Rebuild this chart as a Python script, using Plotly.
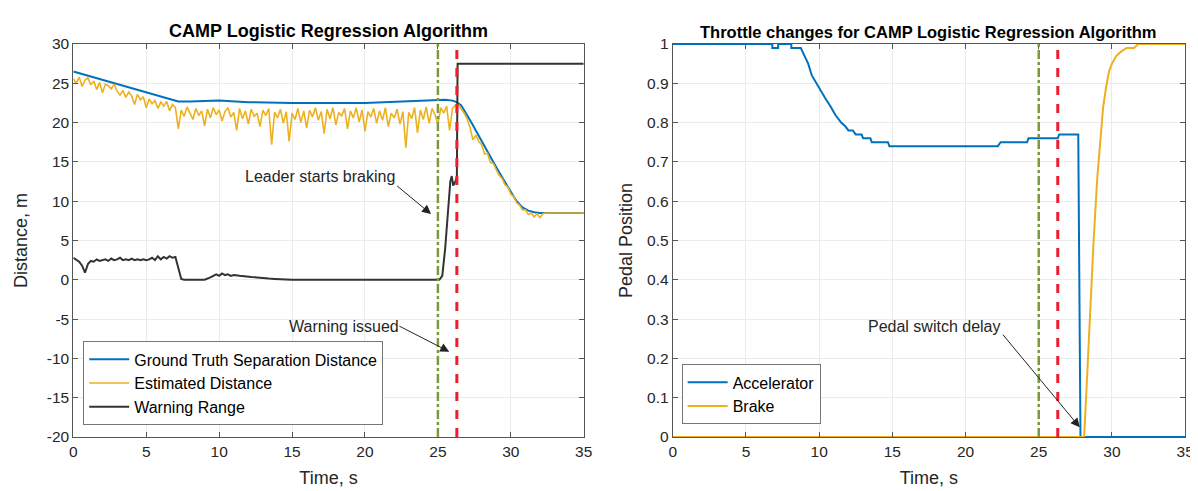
import plotly.graph_objects as go

# ---------------- data ----------------
gt_t = [0, 7.2, 8, 10, 12, 15, 20, 24, 25, 25.5, 26, 26.3, 26.6, 27.0, 27.3, 27.6, 28.0, 28.4, 28.8,
        29.2, 29.6, 30.0, 30.4, 30.8, 31.2, 31.6, 32.0, 33.0, 35]
gt_d = [26.5, 22.7, 22.7, 22.8, 22.6, 22.5, 22.5, 22.8, 22.9, 22.9, 22.8, 22.6, 22.2, 21.0, 20.0, 19.0,
        17.6, 16.3, 15.0, 13.7, 12.4, 11.2, 10.0, 9.2, 8.8, 8.6, 8.5, 8.5, 8.5]

est_t = [round(0.2 * i, 1) for i in range(163)] + [35]
est_d = [25.6, 25.0, 25.8, 24.6, 25.4, 25.7, 24.8, 25.3, 24.2, 25.1, 23.8, 24.9, 24.7, 24.3, 24.9, 24.0,
         23.5, 24.1, 23.2, 23.9, 23.4, 22.3, 23.6, 22.9, 23.3, 21.9, 23.0, 22.4, 22.8, 21.8, 22.6, 22.1,
         22.7, 21.5, 22.3, 21.9,
         19.2, 21.6, 20.8, 22.0, 21.2, 20.4, 21.8, 20.9, 21.5, 19.6, 21.7, 20.6, 21.9, 21.0, 21.6, 20.2,
         21.4, 21.9, 20.7, 21.3, 19.0, 21.8, 20.5, 21.5, 19.8, 21.7, 20.8, 21.2, 19.5, 21.6, 20.9, 21.8,
         17.2, 21.3, 20.6, 21.7, 19.9, 21.4, 17.6, 21.2, 20.4, 21.8, 20.0, 21.5, 19.3, 21.6, 20.7, 21.9,
         20.3, 21.4, 18.6, 21.7, 20.5, 21.9, 19.7, 21.3, 20.8, 21.8, 19.2, 21.5, 20.6, 21.9, 20.1, 21.6,
         18.9, 21.4, 20.7, 21.8, 19.9, 21.5, 20.3, 21.9, 19.5, 21.2, 20.6, 21.7, 19.8, 21.4, 16.8, 21.3,
         20.5, 21.9, 18.7, 21.6, 20.4, 22.0, 19.9, 21.8, 21.0, 19.8, 21.9, 21.2, 22.1, 19.0, 21.8, 22.2,
         22.3, 21.8, 21.2, 20.5, 19.4, 17.8, 18.4, 17.6, 17.2, 16.0, 16.1, 14.9, 14.8, 14.0, 13.3, 12.9,
         12.1, 11.8, 10.9, 10.6, 9.8, 9.5, 8.9, 8.9, 8.3, 8.5, 8.0, 8.4, 7.9, 8.4, 8.5, 8.5]

warn_t = [0, 0.2, 0.4, 0.6, 0.8, 1.0, 1.2, 1.4, 1.6, 1.8, 2.0, 2.2, 2.4, 2.6, 2.8, 3.0, 3.2, 3.4, 3.6,
          3.8, 4.0, 4.2, 4.4, 4.6, 4.8, 5.0, 5.2, 5.4, 5.6, 5.8, 6.0, 6.2, 6.4, 6.6, 6.8, 7.0, 7.2, 7.4,
          7.6, 9.0, 9.4, 9.8, 10.0, 10.2, 10.4, 10.6, 10.8, 11.0, 11.4, 11.8, 12.2, 12.6, 13.0, 13.4,
          13.8, 14.4, 15.0, 25.1, 25.3, 25.5, 25.7, 25.85, 25.95, 26.05, 26.15, 26.3, 26.35, 35]
warn_d = [2.8, 2.6, 2.3, 1.8, 0.9, 2.0, 2.4, 2.3, 2.6, 2.4, 2.5, 2.6, 2.4, 2.7, 2.5, 2.6, 2.8, 2.5, 2.6,
          2.5, 2.7, 2.5, 2.6, 2.5, 2.6, 2.5, 2.6, 2.8, 2.5, 3.0, 2.6, 2.9, 2.7, 3.0, 2.8, 2.9, 1.5, 0.1,
          0.0, 0.0, 0.3, 0.7, 0.5, 0.8, 0.6, 0.7, 0.5, 0.6, 0.5, 0.4, 0.35, 0.3, 0.2, 0.15,
          0.1, 0.05, 0.0, 0.0, 0.5, 4.0, 9.0, 12.5, 13.2, 12.0, 12.3, 13.0, 27.5, 27.5]

acc_t = [0, 6.8, 6.8, 7.2, 7.2, 8.1, 8.1, 8.75, 9.0, 9.25, 9.5, 9.8, 10.1, 10.45, 10.8, 11.1, 11.5,
         11.8, 12.0, 12.3, 12.5, 12.9, 13.0, 13.5, 13.6, 14.7, 14.8, 22.2, 22.4, 24.2, 24.3, 26.3, 26.4,
         27.7, 27.85, 35]
acc_v = [1.0, 1.0, 0.99, 0.99, 1.0, 1.0, 0.99, 0.99, 0.97, 0.95, 0.92, 0.90, 0.88, 0.86, 0.84, 0.82,
         0.80, 0.79, 0.78, 0.78, 0.77, 0.77, 0.76, 0.76, 0.75, 0.75, 0.74, 0.74, 0.75, 0.75, 0.76, 0.76,
         0.77, 0.77, 0.0, 0.0]

brake_t = [0, 28.1, 28.3, 28.5, 28.75, 29.0, 29.2, 29.4, 29.6, 29.8, 30.0, 30.3, 30.6, 31.0, 31.5, 31.8, 35]
brake_v = [0, 0, 0.15, 0.32, 0.5, 0.66, 0.76, 0.84, 0.89, 0.93, 0.95, 0.97, 0.98, 0.99, 0.99, 1.0, 1.0]

event_times = [25.0, 26.3]   # leader braking, warning issued
x_ticks = [0, 5, 10, 15, 20, 25, 30, 35]
left_y_ticks = [30, 25, 20, 15, 10, 5, 0, -5, -10, -15, -20]
right_y_ticks = [0, 0.1, 0.2, 0.3, 0.4, 0.5, 0.6, 0.7, 0.8, 0.9, 1]

# ---------------- styling ----------------
BLUE = "#0072BD"
ORANGE = "#EDB120"
DARK = "#333333"
GREEN = "#7C9A3C"
RED = "#EE1C2E"
FONT = "Liberation Sans, Arial, sans-serif"
TXT = "#262626"

fig = go.Figure()
fig.add_trace(go.Scatter(x=gt_t, y=gt_d, mode="lines", name="Ground Truth Separation Distance",
                         line=dict(color=BLUE, width=2), xaxis="x", yaxis="y", legend="legend"))
fig.add_trace(go.Scatter(x=est_t, y=est_d, mode="lines", name="Estimated Distance",
                         line=dict(color=ORANGE, width=1.6), xaxis="x", yaxis="y", legend="legend"))
fig.add_trace(go.Scatter(x=warn_t, y=warn_d, mode="lines", name="Warning Range",
                         line=dict(color=DARK, width=2), xaxis="x", yaxis="y", legend="legend"))

fig.add_trace(go.Scatter(x=acc_t, y=acc_v, mode="lines", name="Accelerator",
                         line=dict(color=BLUE, width=2), xaxis="x2", yaxis="y2", legend="legend2"))
fig.add_trace(go.Scatter(x=brake_t, y=brake_v, mode="lines", name="Brake",
                         line=dict(color=ORANGE, width=2), xaxis="x2", yaxis="y2", legend="legend2"))

shapes = []
for xr, yr in (("x", "y domain"), ("x2", "y2 domain")):
    shapes.append(dict(type="line", xref=xr, yref=yr, x0=event_times[0], x1=event_times[0], y0=0, y1=1,
                       line=dict(color=GREEN, width=2.5, dash="dashdot")))
    shapes.append(dict(type="line", xref=xr, yref=yr, x0=event_times[1], x1=event_times[1], y0=0, y1=1,
                       line=dict(color=RED, width=3, dash="dash")))

TICKSIZE = 15.5
axis_common = dict(showgrid=True, gridcolor="#ebebeb", gridwidth=1, zeroline=False,
                   showline=True, linecolor="#555555", linewidth=1, mirror="ticks",
                   ticks="inside", ticklen=5, tickcolor="#555555",
                   tickfont=dict(family=FONT, size=TICKSIZE, color=TXT))
TITLEFONT = dict(family=FONT, size=18, color=TXT)

annotations = [
    dict(text="<b>CAMP Logistic Regression Algorithm</b>", xref="paper", yref="paper",
         x=(62 + 578) / 2 / 1198, y=1 - 14 / 491, showarrow=False,
         font=dict(family=FONT, size=18, color="#000000"), xanchor="center", yanchor="middle"),
    dict(text="<b>Throttle changes for CAMP Logistic Regression Algorithm</b>", xref="paper", yref="paper",
         x=(668 + 1186) / 2 / 1198, y=1 - 16 / 491, showarrow=False,
         font=dict(family=FONT, size=16.5, color="#000000"), xanchor="center", yanchor="middle"),
    # arrows
    dict(x=24.53, y=8.36, ax=22.1, ay=12.1, xref="x", yref="y", axref="x", ayref="y", text="",
         showarrow=True, arrowhead=2, arrowsize=1.8, arrowwidth=1, arrowcolor="#222222"),
    dict(x=25.78, y=-9.15, ax=22.25, ay=-5.8, xref="x", yref="y", axref="x", ayref="y", text="",
         showarrow=True, arrowhead=2, arrowsize=1.8, arrowwidth=1, arrowcolor="#222222"),
    dict(x=27.8, y=0.0246, ax=22.47, ay=0.264, xref="x2", yref="y2", axref="x2", ayref="y2", text="",
         showarrow=True, arrowhead=2, arrowsize=1.8, arrowwidth=1, arrowcolor="#222222"),
    # texts
    dict(x=16.9, y=13.2, xref="x", yref="y", text="Leader starts braking", showarrow=False,
         font=dict(family=FONT, size=16, color=TXT)),
    dict(x=18.56, y=-6.0, xref="x", yref="y", text="Warning issued", showarrow=False,
         font=dict(family=FONT, size=16, color=TXT)),
    dict(x=17.9, y=0.28, xref="x2", yref="y2", text="Pedal switch delay", showarrow=False,
         font=dict(family=FONT, size=16, color=TXT)),
]

legend_common = dict(bgcolor="white", bordercolor="#777777", borderwidth=1,
                     font=dict(family=FONT, size=16, color="#000000"),
                     xanchor="left", yanchor="bottom", tracegroupgap=0, itemwidth=40)

fig.update_layout(
    width=1198, height=491,
    margin=dict(l=0, r=0, t=0, b=0),
    paper_bgcolor="white", plot_bgcolor="white",
    font=dict(family=FONT, color=TXT),
    xaxis=dict(domain=[62 / 1198, 578 / 1198], range=[0, 35], tickvals=x_ticks, anchor="y",
               title=dict(text="Time, s", font=TITLEFONT, standoff=12),
               **axis_common),
    yaxis=dict(domain=[1 - 435 / 491, 1 - 28 / 491], range=[-20, 30], tickvals=left_y_ticks, anchor="x",
               ticktext=[str(v) for v in left_y_ticks],
               title=dict(text="Distance, m", font=TITLEFONT, standoff=14),
               **axis_common),
    xaxis2=dict(domain=[668 / 1198, 1186 / 1198], range=[0, 35], tickvals=x_ticks, anchor="y2",
                title=dict(text="Time, s", font=TITLEFONT, standoff=12),
                **axis_common),
    yaxis2=dict(domain=[1 - 435 / 491, 1 - 28 / 491], range=[0, 1], tickvals=right_y_ticks, anchor="x2",
                ticktext=[str(v) for v in right_y_ticks],
                title=dict(text="Pedal Position", font=TITLEFONT, standoff=9),
                **axis_common),
    legend=dict(x=72 / 1198, y=1 - 423 / 491, **legend_common),
    legend2=dict(x=677 / 1198, y=1 - 422 / 491, **legend_common),
    shapes=shapes,
    annotations=annotations,
)

fig.write_html("out.html")
